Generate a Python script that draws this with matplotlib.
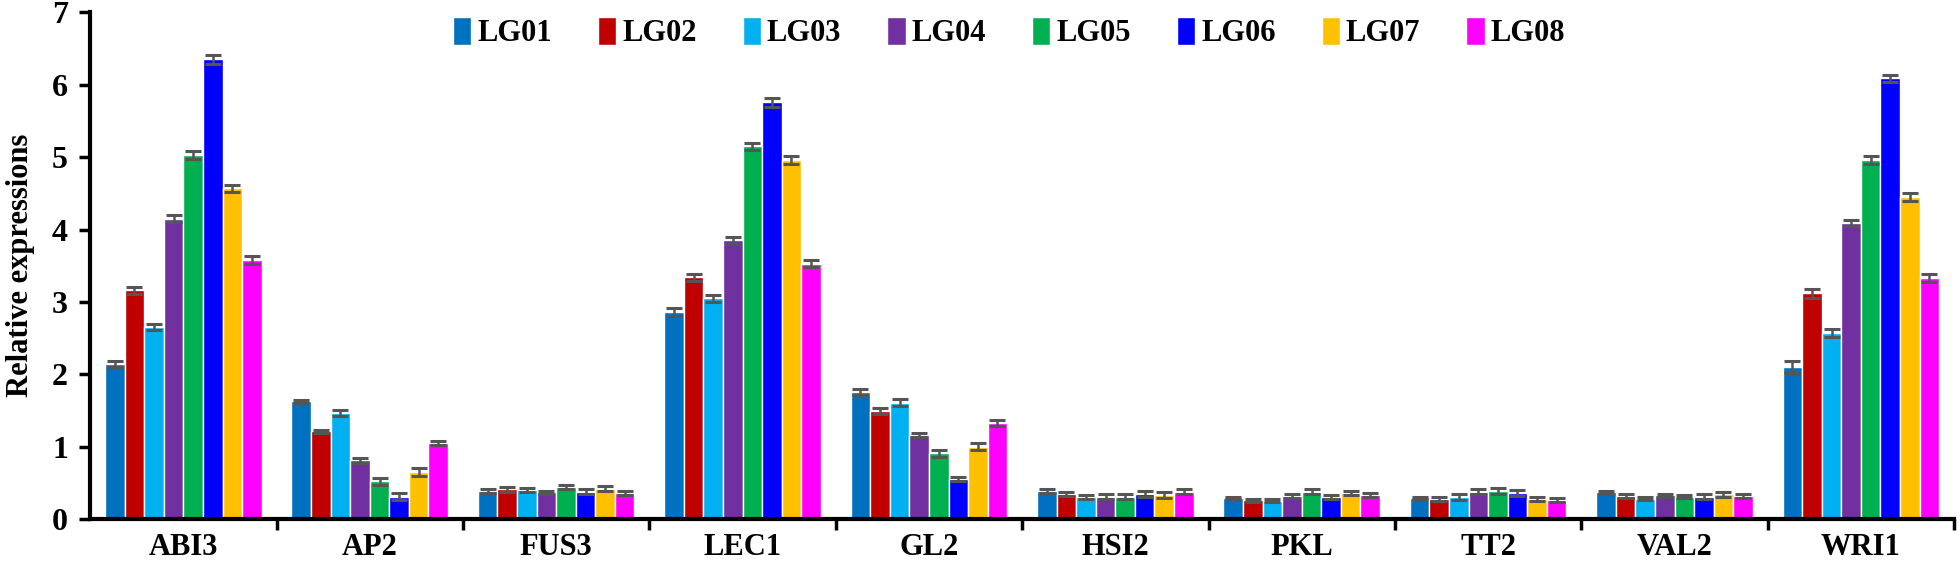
import numpy as np
import matplotlib
matplotlib.use("Agg")
import matplotlib.pyplot as plt

genes = ["ABI3", "AP2", "FUS3", "LEC1", "GL2", "HSI2", "PKL", "TT2", "VAL2", "WRI1"]
lines = ["LG01", "LG02", "LG03", "LG04", "LG05", "LG06", "LG07", "LG08"]
colors = ["#0070C0", "#C00000", "#00B0F0", "#7030A0", "#00B050", "#0000FF", "#FFC000", "#FF00FF"]

# rows = lines (LG01..LG08), columns = genes
LG01 = [2.14, 1.63, 0.39, 2.86, 1.75, 0.39, 0.29, 0.29, 0.37, 2.10]
LG02 = [3.16, 1.21, 0.41, 3.34, 1.49, 0.35, 0.26, 0.28, 0.32, 3.12]
LG03 = [2.65, 1.47, 0.40, 3.05, 1.61, 0.30, 0.25, 0.30, 0.28, 2.57]
LG04 = [4.15, 0.81, 0.37, 3.85, 1.16, 0.31, 0.32, 0.38, 0.33, 4.09]
LG05 = [5.03, 0.52, 0.44, 5.15, 0.91, 0.31, 0.38, 0.39, 0.31, 4.96]
LG06 = [6.35, 0.31, 0.38, 5.76, 0.55, 0.35, 0.30, 0.36, 0.31, 6.09]
LG07 = [4.57, 0.65, 0.42, 4.96, 1.00, 0.33, 0.36, 0.28, 0.34, 4.45]
LG08 = [3.58, 1.05, 0.36, 3.53, 1.33, 0.38, 0.33, 0.26, 0.32, 3.33]

ERR01 = [0.04, 0.02, 0.03, 0.05, 0.04, 0.03, 0.02, 0.02, 0.02, 0.08]
ERR02 = [0.05, 0.02, 0.03, 0.05, 0.04, 0.03, 0.02, 0.03, 0.03, 0.06]
ERR03 = [0.04, 0.04, 0.03, 0.05, 0.05, 0.03, 0.02, 0.04, 0.02, 0.06]
ERR04 = [0.05, 0.04, 0.02, 0.05, 0.03, 0.03, 0.03, 0.04, 0.02, 0.04]
ERR05 = [0.06, 0.05, 0.03, 0.05, 0.05, 0.03, 0.04, 0.04, 0.02, 0.05]
ERR06 = [0.06, 0.05, 0.04, 0.06, 0.03, 0.04, 0.03, 0.04, 0.04, 0.05]
ERR07 = [0.05, 0.05, 0.03, 0.05, 0.05, 0.04, 0.03, 0.03, 0.03, 0.05]
ERR08 = [0.06, 0.03, 0.03, 0.05, 0.04, 0.03, 0.03, 0.03, 0.03, 0.05]

values = [LG01, LG02, LG03, LG04, LG05, LG06, LG07, LG08]
errors = [ERR01, ERR02, ERR03, ERR04, ERR05, ERR06, ERR07, ERR08]

plt.rcParams["font.family"] = ["Liberation Serif", "DejaVu Serif"]
plt.rcParams["font.weight"] = "bold"

fig = plt.figure(figsize=(19.6, 5.66), dpi=100)
ax = fig.add_axes([0.046, 0.083, 0.951, 0.895])

x = np.arange(len(genes))
width = 0.105
for i in range(len(lines)):
	offset = (i - 3.5) * width
	ax.bar(x + offset, values[i], width, color=colors[i], edgecolor="white",
		linewidth=1.0, label=lines[i], zorder=2)
	ax.errorbar(x + offset, values[i], yerr=errors[i], fmt="none",
		ecolor="#555555", elinewidth=1.8, capsize=5.5, capthick=2.2, zorder=3)

ax.set_xlim(-0.5, 9.5)
ax.set_ylim(0, 7)
ax.set_yticks(range(0, 8))
ax.set_xticks(x)
ax.set_xticklabels(genes)
ax.set_xticks(np.arange(0.5, 10, 1), minor=True)
ax.tick_params(axis="x", which="major", length=0, labelsize=22, pad=10)
ax.tick_params(axis="x", which="minor", length=8, width=2.5, direction="out")
ax.tick_params(axis="y", length=8, width=2.5, direction="out", labelsize=23, pad=8)
for lab in ax.get_xticklabels() + ax.get_yticklabels():
	lab.set_fontweight("bold")

ax.spines["top"].set_visible(False)
ax.spines["right"].set_visible(False)
ax.spines["left"].set_linewidth(3)
ax.spines["bottom"].set_linewidth(3)

ax.set_ylabel("Relative expressions", fontsize=22, fontweight="bold", labelpad=12)

leg = ax.legend(loc="upper center", bbox_to_anchor=(0.493, 1.045), ncol=8, frameon=False,
	prop={"size": 22, "weight": "bold"}, handlelength=0.6, handleheight=1.0,
	handletextpad=0.2, columnspacing=1.5)

plt.savefig("out.png", dpi=100)
